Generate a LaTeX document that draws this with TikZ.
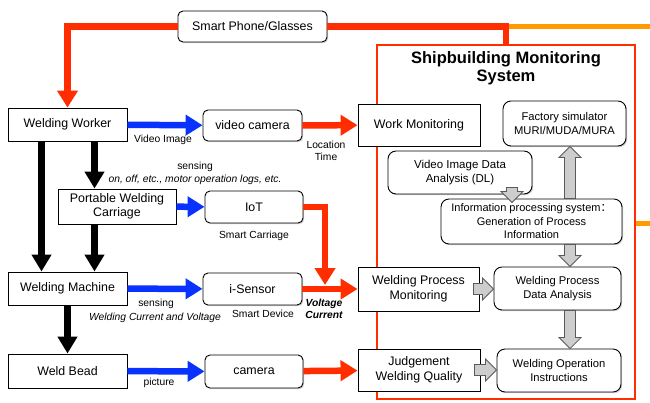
\documentclass[tikz,border=0pt]{standalone}
\usepackage{fontspec}
\setmainfont{Liberation Sans}
\newfontfamily\cjkfont{Noto Sans CJK SC}
\usepackage{tikz}
\usetikzlibrary{arrows.meta,positioning,calc,shadows}
\definecolor{flowred}{HTML}{FF2D00}
\definecolor{flowblue}{HTML}{0A32FF}
\definecolor{feedorange}{HTML}{FF9A00}
\definecolor{blockgray}{HTML}{CDCDCD}
\definecolor{blockedge}{HTML}{5A5A5A}
\tikzset{
    every picture/.style={line join=miter},
    plainbox/.style={draw=black,fill=white,line width=0.9pt,
      minimum width=119pt,minimum height=33pt,inner sep=2pt,
      font=\fontsize{12.4}{14.5}\selectfont,align=center,
      drop shadow={shadow xshift=1.2pt,shadow yshift=-1.2pt,opacity=0.3,fill=black!60}},
    roundbox/.style={plainbox,rounded corners=5pt},
    procbox/.style={plainbox,rounded corners=8pt,font=\fontsize{11.2}{14}\selectfont},
    sysframe/.style={draw=flowred,fill=white,line width=1.8pt,minimum width=258pt,minimum height=354pt,
      drop shadow={shadow xshift=1pt,shadow yshift=-1pt,opacity=0.25,fill=black!50}},
    systitle/.style={font=\fontsize{16.5}{18.5}\selectfont\bfseries,align=center,inner sep=0pt},
    smalllabel/.style={font=\fontsize{10.3}{12}\selectfont,inner sep=1pt,align=center},
    fatarrow/.style={line width=6.5pt,-{Triangle[length=17pt,width=20pt]}},
    blueflow/.style={fatarrow,draw=flowblue},
    redflow/.style={fatarrow,draw=flowred},
    blackflow/.style={draw=black,line width=7.5pt,-{Triangle[length=17pt,width=19pt]}},
    redline/.style={draw=flowred,line width=6.5pt},
    orangeline/.style={draw=feedorange,line width=5pt},
    blockarrow/.style={draw=blockedge,fill=blockgray,line width=0.8pt}
}
% outlined block arrow from #1 to #2
\newcommand\grayblock[2]{%
  \coordinate (gb) at ($(#2)!11pt!(#1)$);
  \draw[blockarrow] ($(#1)!5.5pt!90:(#2)$) -- ($(gb)!5.5pt!90:(#2)$)
    -- ($(gb)!11pt!90:(#2)$) -- (#2) -- ($(gb)!11pt!-90:(#2)$)
    -- ($(gb)!5.5pt!-90:(#2)$) -- ($(#1)!5.5pt!-90:(#2)$) -- cycle;}

\begin{document}
\begin{tikzpicture}[x=1pt,y=-1pt]
    \useasboundingbox (0,0) rectangle (650,402);
    % monitoring system frame
    \node[sysframe] (smsys) at (506,222) {};
    \node[systitle] (smstitle) at (506,68) {Shipbuilding Monitoring\\System};

    \node[roundbox,minimum width=149pt,minimum height=31pt] (smart) at (252.5,26.5) {Smart Phone/Glasses};

    % left column
    \node[plainbox] (worker) at (67.5,124.5) {Welding Worker};
    \node[plainbox,minimum width=118pt,minimum height=35pt] (carriage) at (117,206.5) {Portable Welding\\Carriage};
    \node[plainbox] (machine) at (67.5,288.5) {Welding Machine};
    \node[plainbox,minimum height=34pt] (bead) at (67.5,371) {Weld Bead};

    % devices
    \node[roundbox,minimum width=99pt,minimum height=31pt] (vcam) at (252.5,125.5) {video camera};
    \node[roundbox,minimum width=98pt,minimum height=32pt] (iot) at (254,207) {IoT};
    \node[roundbox,minimum width=99pt,minimum height=32pt] (isensor) at (252.5,289) {i-Sensor};
    \node[roundbox,minimum width=98pt,minimum height=33pt] (camera) at (254,371.5) {camera};

    % monitoring
    \node[plainbox,minimum width=122pt,minimum height=42pt] (workmon) at (419,125) {Work Monitoring};
    \node[plainbox,minimum width=121pt,minimum height=44pt] (wpm) at (418.5,289) {Welding Process\\Monitoring};
    \node[plainbox,minimum width=122pt,minimum height=42pt] (jwq) at (419,370) {Judgement\\Welding Quality};

    % processing side
    \node[procbox,minimum width=123pt,minimum height=45pt] (factory) at (564.5,123.5) {Factory simulator\\MURI/MUDA/MURA};
    \node[procbox,minimum width=144pt,minimum height=43pt,font=\fontsize{11.5}{14}\selectfont] (dl) at (460,172.5) {Video Image Data\\Analysis (DL)};
    \node[procbox,minimum width=181pt,minimum height=45pt,font=\fontsize{11}{13.5}\selectfont] (info) at (531.5,221.5) {Information processing system{\cjkfont ：}\\Generation of Process\\Information};
    \node[procbox,minimum width=127pt,minimum height=43pt] (wpda) at (557.5,288.5) {Welding Process\\Data Analysis};
    \node[procbox,minimum width=124pt,minimum height=43pt] (woi) at (559,370.5) {Welding Operation\\Instructions};

    % labels
    \node[smalllabel] (vidlbl) at (163,140) {Video Image};
    \node[smalllabel] (loclbl) at (326,151) {Location\\Time};
    \node[smalllabel] (senslbl) at (195,167) {sensing};
    \node[smalllabel,font=\fontsize{10.3}{12}\selectfont\itshape] (loglbl) at (195,180) {on, off, etc., motor operation logs, etc.};
    \node[smalllabel] (carlbl) at (254,236) {Smart Carriage};
    \node[smalllabel] (sens2lbl) at (156,304) {sensing};
    \node[smalllabel,font=\fontsize{10.3}{12}\selectfont\itshape] (curlbl) at (155,318) {Welding Current and Voltage};
    \node[smalllabel] (devlbl) at (263,314) {Smart Device};
    \node[smalllabel,font=\fontsize{10.3}{12}\selectfont\bfseries\itshape] (vclbl) at (324,309) {Voltage\\Current};
    \node[smalllabel] (piclbl) at (159,383) {picture};

    % orange feeds leaving to the right
    \coordinate (edgeT) at (650,26.5);
    \coordinate (edgeR) at (650,223);
    \draw[orangeline] (smsys.north |- edgeT) -- (edgeT);
    \draw[orangeline] (smsys.east |- edgeR) -- (edgeR);

    % smart phone feedback
    \draw[redline,-{Triangle[length=17pt,width=20pt]}] (smart.west) -| (worker.north);
    \draw[redline] (smart.east) -| (smsys.north);

    % worker / machine chain
    \draw[blackflow] ([xshift=-26pt]worker.south) -- ([xshift=-26pt]machine.north);
    \draw[blackflow] ([xshift=27pt]worker.south) -- ([xshift=27pt]worker.south |- carriage.north);
    \draw[blackflow] ([xshift=27pt]worker.south |- carriage.south) -- ([xshift=27pt]machine.north);
    \draw[blackflow] (machine) -- (bead);

    \foreach \a/\b in {worker/vcam,carriage/iot,machine/isensor,bead/camera}
        \draw[blueflow] (\a) -- (\b);
    \foreach \a/\b in {vcam/workmon,isensor/wpm,camera/jwq}
        \draw[redflow] (\a) -- (\b);
    \coordinate (vcjoin) at ($(isensor.east)!0.41!(wpm.west)+(0,-4)$);
    \draw[redflow] (iot.east) -| (vcjoin);

    % gray block arrows
    \coordinate (gx) at (570,0);
    \coordinate (dlx) at (512,0);
    \coordinate (up0) at (info.north -| gx);
    \coordinate (up1) at (factory.south -| gx);
    \coordinate (dn0) at (info.south -| gx);
    \coordinate (dn1) at (wpda.north -| gx);
    \coordinate (dn2) at (wpda.south -| gx);
    \coordinate (dn3) at (woi.north -| gx);
    \coordinate (dl0) at ([yshift=7pt]dl.south -| dlx);
    \coordinate (dl1) at ([yshift=-4pt]info.north -| dlx);
    \coordinate (hp0) at ([xshift=-6pt]wpm.east);
    \coordinate (hp1) at (wpda.west |- wpm.east);
    \coordinate (hq0) at ([xshift=-6pt]jwq.east);
    \coordinate (hq1) at (woi.west |- jwq.east);
    \grayblock{up0}{up1}
    \grayblock{dn0}{dn1}
    \grayblock{dn2}{dn3}
    \grayblock{dl0}{dl1}
    \grayblock{hp0}{hp1}
    \grayblock{hq0}{hq1}
\end{tikzpicture}
\end{document}
